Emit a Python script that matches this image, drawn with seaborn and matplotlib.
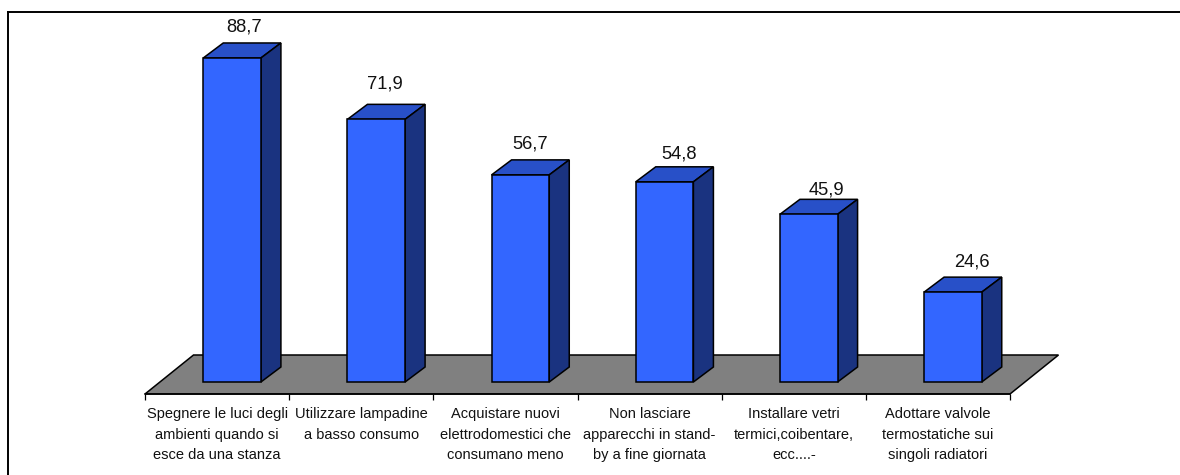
import matplotlib
matplotlib.use("Agg")
import matplotlib.pyplot as plt
import pandas as pd
import seaborn as sns
from matplotlib.lines import Line2D
from matplotlib.patches import Polygon

categories = [
    "Spegnere le luci degli\nambienti quando si\nesce da una stanza",
    "Utilizzare lampadine\na basso consumo",
    "Acquistare nuovi\nelettrodomestici che\nconsumano meno",
    "Non lasciare\napparecchi in stand-\nby a fine giornata",
    "Installare vetri\ntermici,coibentare,\necc....-",
    "Adottare valvole\ntermostatiche sui\nsingoli radiatori",
]
values = [88.7, 71.9, 56.7, 54.8, 45.9, 24.6]

# Hand placement of the value labels relative to each bar's back edge, in pixels
label_shift_x = [-8, -11, -10, -6, -2, -1]
label_shift_y = [16, 20, 16, 13, 9, 15]

FRONT = "#3366FF"
TOP = "#2850C8"
SIDE = "#1A3380"
FLOOR = "#808080"
W, H = 1180, 475
EDGE = 1.1

sns.set_theme(style="white")
plt.rcParams["font.family"] = ["Liberation Sans", "DejaVu Sans"]

fig = plt.figure(figsize=(W / 100, H / 100), dpi=100, facecolor="white")

# Chart frame: only the top and left edges fall inside the image
fig.add_artist(Line2D([8 / W, 8 / W], [0, 1 - 11.5 / H], color="black", linewidth=1.4,
                      solid_capstyle="projecting"))
fig.add_artist(Line2D([8 / W, 1], [1 - 11.5 / H, 1 - 11.5 / H], color="black", linewidth=1.4,
                      solid_capstyle="projecting"))

# Plot area: x runs across six category slots, y = 0 sits on the bars' base line
left, right, axis_y = 145, 1010, 394
px_per_unit = 3.653
zero_y = 382
ymin = -(axis_y - zero_y) / px_per_unit
ymax = 100
top_px = zero_y - ymax * px_per_unit
ax = fig.add_axes([left / W, 1 - axis_y / H, (right - left) / W, (axis_y - top_px) / H])

df = pd.DataFrame({"category": categories, "value": values})
sns.barplot(data=df, x="category", y="value", ax=ax, width=0.4, color=FRONT,
            saturation=1, edgecolor="black", linewidth=EDGE, zorder=3)
ax.set_xlim(-0.5, 5.5)
ax.set_ylim(ymin, ymax)
ax.patch.set_visible(False)

# Oblique depth of the bars and of the floor, in data units
slot_px = (right - left) / 6
bar_dx, bar_dy = 20 / slot_px, 15 / px_per_unit
floor_dx, floor_dy = 48.5 / slot_px, 39 / px_per_unit
bar_offset = 15 / slot_px

ax.add_patch(Polygon(
    [(-0.5, ymin), (5.5, ymin), (5.5 + floor_dx, ymin + floor_dy), (-0.5 + floor_dx, ymin + floor_dy)],
    closed=True, facecolor=FLOOR, edgecolor="black", linewidth=EDGE, zorder=1, clip_on=False))

for i, bar in enumerate(ax.patches[:len(values)]):
    # The bars stand in the middle of the floor's depth, so they sit right of the slot centre
    bar.set_x(bar.get_x() + bar_offset)
    x0, x1, h = bar.get_x(), bar.get_x() + bar.get_width(), bar.get_height()
    ax.add_patch(Polygon(
        [(x0, h), (x1, h), (x1 + bar_dx, h + bar_dy), (x0 + bar_dx, h + bar_dy)],
        closed=True, facecolor=TOP, edgecolor="black", linewidth=EDGE, zorder=2, clip_on=False))
    ax.add_patch(Polygon(
        [(x1, 0), (x1 + bar_dx, bar_dy), (x1 + bar_dx, h + bar_dy), (x1, h)],
        closed=True, facecolor=SIDE, edgecolor="black", linewidth=EDGE, zorder=2, clip_on=False))
    ax.text((x0 + x1) / 2 + bar_dx + label_shift_x[i] / slot_px,
            h + bar_dy + label_shift_y[i] / px_per_unit,
            f"{values[i]:.1f}".replace(".", ","),
            ha="center", va="center", fontsize=13.2, color="#111111", clip_on=False)

# Category axis: slot boundaries carry the ticks, labels sit centred between them
for side in ("top", "right", "left"):
    ax.spines[side].set_visible(False)
ax.spines["bottom"].set_color("black")
ax.spines["bottom"].set_linewidth(EDGE)
ax.set_yticks([])
ax.set_xlabel("")
ax.set_ylabel("")
ax.set_xticks([i - 0.5 for i in range(7)], [""] * 7)
ax.tick_params(axis="x", length=4.5, width=0.9, color="black", bottom=True, pad=0)
for i, label in enumerate(categories):
    ax.annotate(label, (i, ymin), xytext=(0, -9.2), textcoords="offset points",
                ha="center", va="top", fontsize=10.5, color="#111111",
                linespacing=1.62, annotation_clip=False)

fig.savefig("out.png", dpi=100)
